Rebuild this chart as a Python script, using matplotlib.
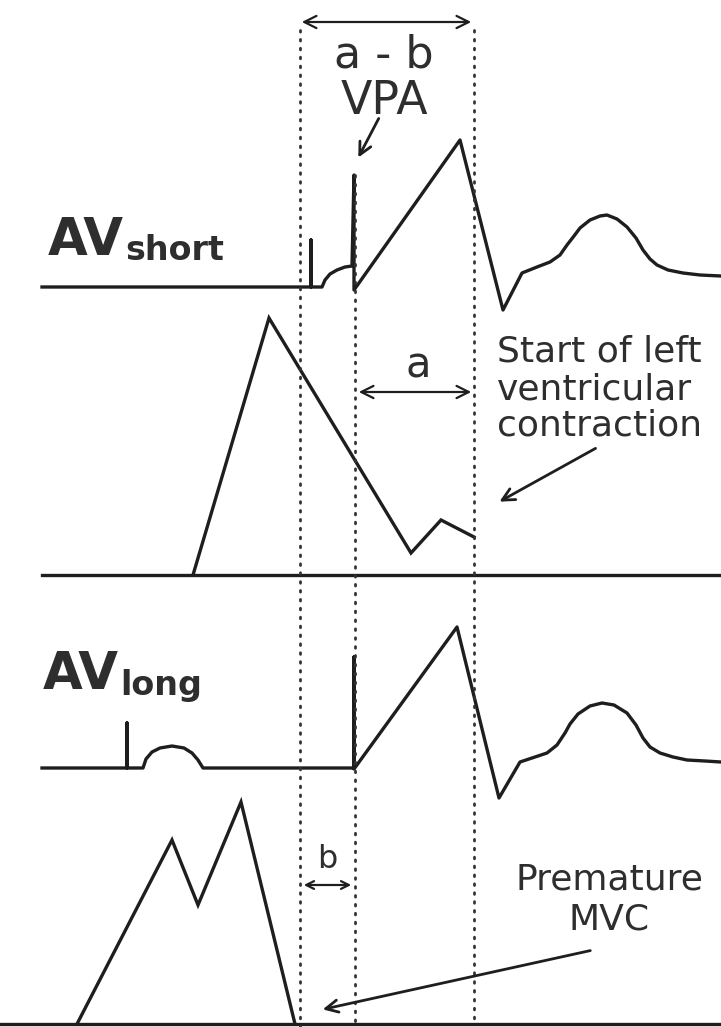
import numpy as np
import matplotlib
matplotlib.use("Agg")
import matplotlib.pyplot as plt

# largura/altura da imagem em pixels (coordenadas do desenho)
base = 721
altura = 1027

ink = "#1e1e1e"
txt = "#2e2e2e"

# tracado AV curto (ECG)
av_short_x = [42, 311, 311, 311, 322, 325, 330, 337, 345, 352, 354, 354, 460, 503,
              522, 537, 550, 560, 567, 574, 580, 590, 600, 607, 617, 627, 636, 643,
              650, 657, 668, 683, 700, 721]
av_short_y = [287, 287, 240, 287, 287, 280, 274, 270, 267, 266, 175, 290, 140, 310,
              273, 267, 262, 255, 245, 236, 228, 220, 216, 215, 219, 227, 238, 250,
              259, 265, 270, 273, 275, 276]

# curva de pressao (topo)
lv_x = [193, 269, 411, 441, 474]
lv_y = [575, 318, 553, 520, 537]
lv_base = 575

# tracado AV longo (ECG)
av_long_x = [42, 127, 127, 127, 143, 146, 152, 160, 172, 184, 192, 198, 203, 354, 354, 354,
             457, 499, 520, 535, 547, 557, 565, 570, 578, 590, 602, 614, 627, 636, 643,
             650, 660, 673, 687, 705, 721]
av_long_y = [768, 768, 723, 768, 768, 759, 752, 748, 746, 748, 753, 760, 768, 768, 657, 769,
             627, 798, 762, 757, 753, 745, 733, 724, 714, 706, 703, 705, 713, 725, 738,
             747, 753, 757, 760, 761, 762]

# curva MVC prematura (baixo)
mvc_x = [77, 172, 198, 241, 295]
mvc_y = [1024, 840, 905, 802, 1024]
mvc_base = 1024

# linhas pontilhadas verticais: x, y inicial, y final
guias = [(300, 30, 1027), (355, 175, 1027), (474, 30, 1020)]


def main():
    fig = plt.figure(figsize=(base / 100, altura / 100), dpi=100)
    ax = fig.add_axes([0, 0, 1, 1])
    ax.set_xlim(0, base)
    ax.set_ylim(altura, 0)
    ax.axis("off")

    lw = 2.4
    ax.plot(av_short_x, av_short_y, color=ink, lw=lw, solid_joinstyle="round")
    ax.plot([42, base], [lv_base, lv_base], color=ink, lw=lw)
    ax.plot(lv_x, lv_y, color=ink, lw=lw, solid_joinstyle="miter")
    ax.plot(av_long_x, av_long_y, color=ink, lw=lw, solid_joinstyle="round")
    ax.plot([0, base], [mvc_base, mvc_base], color=ink, lw=lw)
    ax.plot(mvc_x, mvc_y, color=ink, lw=lw, solid_joinstyle="miter")

    for gx, y0, y1 in guias:
        ax.plot([gx, gx], [y0, y1], color="#333333", lw=2.0, linestyle=(0, (0.6, 2.6)),
                dash_capstyle="round")

    # setas duplas
    seta = dict(arrowstyle="<->", color=ink, lw=1.6, mutation_scale=22)
    ax.annotate("", xy=(299, 22), xytext=(474, 22), arrowprops=seta)
    ax.annotate("", xy=(356, 392), xytext=(474, 392), arrowprops=seta)
    ax.annotate("", xy=(301, 885), xytext=(354, 885),
                arrowprops=dict(arrowstyle="<->", color=ink, lw=1.6, mutation_scale=14))

    # setas simples
    simples = dict(arrowstyle="->", color=ink, lw=2.0, mutation_scale=22)
    ax.annotate("", xy=(357, 160), xytext=(380, 116), arrowprops=simples)
    ax.annotate("", xy=(497, 503), xytext=(598, 447), arrowprops=simples)
    ax.annotate("", xy=(320, 1010), xytext=(593, 950), arrowprops=simples)

    # textos
    ax.text(384, 55, "a - b", ha="center", va="center", fontsize=32, color=txt)
    ax.text(384, 101, "VPA", ha="center", va="center", fontsize=33, color=txt)
    ax.text(418, 366, "a", ha="center", va="center", fontsize=30, color=txt)
    ax.text(327, 860, "b", ha="center", va="center", fontsize=23, color=txt)

    for yy, s in zip([352, 390, 426], ["Start of left", "ventricular", "contraction"]):
        ax.text(497, yy, s, ha="left", va="center", fontsize=26, color=txt)
    for yy, s in zip([880, 920], ["Premature", "MVC"]):
        ax.text(609, yy, s, ha="center", va="center", fontsize=26, color=txt)

    ax.text(48, 255, "AV", ha="left", va="baseline", fontsize=37, fontweight="bold", color=txt)
    ax.text(125, 260, "short", ha="left", va="baseline", fontsize=24, fontweight="bold", color=txt)
    ax.text(43, 689, "AV", ha="left", va="baseline", fontsize=37, fontweight="bold", color=txt)
    ax.text(120, 695, "long", ha="left", va="baseline", fontsize=24, fontweight="bold", color=txt)

    fig.savefig("out.png", dpi=100, facecolor="white")


if __name__ == "__main__":
    main()
